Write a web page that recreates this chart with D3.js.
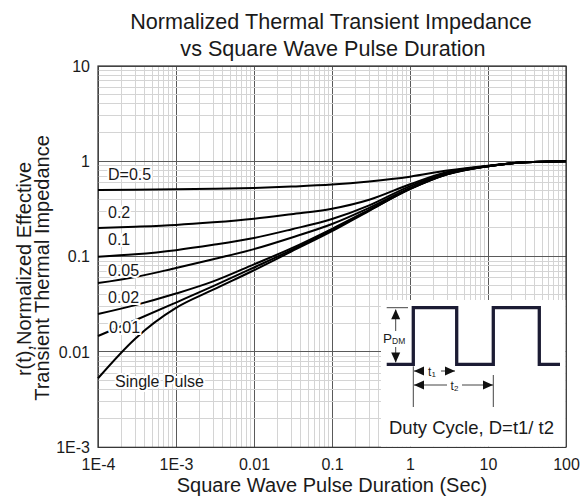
<!DOCTYPE html>
<html>
<head>
<meta charset="utf-8">
<script src="https://cdn.jsdelivr.net/npm/d3@7"></script>
<style>
  body { margin: 0; background: #fff; }
  text { font-family: "Liberation Sans", Arial, sans-serif; fill: #1a1a1a; }
</style>
</head>
<body>
<div class="chart"></div>
<script>
const durations = [1e-4, 3e-4, 1e-3, 3e-3, 0.01, 0.03, 0.1, 0.3, 1, 3, 10, 30, 100];
// r(t) for each duty cycle
const duty050 = [0.50, 0.503, 0.508, 0.515, 0.526, 0.543, 0.57, 0.615, 0.69, 0.80, 0.90, 0.975, 1.0];
const duty020 = [0.20, 0.206, 0.215, 0.229, 0.25, 0.279, 0.318, 0.395, 0.575, 0.775, 0.895, 0.975, 1.0];
const duty010 = [0.10, 0.106, 0.117, 0.133, 0.157, 0.193, 0.248, 0.345, 0.55, 0.755, 0.89, 0.975, 1.0];
const duty005 = [0.053, 0.061, 0.076, 0.094, 0.12, 0.158, 0.22, 0.325, 0.525, 0.74, 0.89, 0.975, 1.0];
const duty002 = [0.025, 0.031, 0.041, 0.055, 0.083, 0.122, 0.196, 0.31, 0.517, 0.735, 0.89, 0.975, 1.0];
const duty001 = [0.0147, 0.0215, 0.033, 0.049, 0.077, 0.117, 0.192, 0.305, 0.513, 0.732, 0.89, 0.975, 1.0];
const singlePulse = [0.0053, 0.0138, 0.029, 0.045, 0.072, 0.113, 0.185, 0.303, 0.51, 0.73, 0.89, 0.975, 1.0];
const curveLabels = ["D=0.5", "0.2", "0.1", "0.05", "0.02", "0.01", "Single Pulse"];

const xTickValues = [1e-4, 1e-3, 0.01, 0.1, 1, 10, 100];
const xTickLabels = ["1E-4", "1E-3", "0.01", "0.1", "1", "10", "100"];
const yTickValues = [1e-3, 0.01, 0.1, 1, 10];
const yTickLabels = ["1E-3", "0.01", "0.1", "1", "10"];

const width = 582, height = 497;
const plot = {left: 98, right: 566, top: 66, bottom: 447.3};

let svg = d3.select(".chart").append("svg")
    .attr("width", width)
    .attr("height", height);

let x = d3.scaleLog().domain([1e-4, 100]).range([plot.left, plot.right]);
let y = d3.scaleLog().domain([1e-3, 10]).range([plot.bottom, plot.top]);

// grid: minor first, major on top
let isMajor = v => Math.abs(Math.log10(v) - Math.round(Math.log10(v))) < 1e-6;
let grid = svg.append("g").attr("shape-rendering", "crispEdges");
grid.selectAll(".vx").data(x.ticks().sort((a, b) => isMajor(a) - isMajor(b))).join("line")
    .attr("x1", d => x(d)).attr("x2", d => x(d))
    .attr("y1", plot.top).attr("y2", plot.bottom)
    .attr("stroke", d => isMajor(d) ? "#5a5a5a" : "#d4d4d4")
    .attr("stroke-width", 1);
grid.selectAll(".hy").data(y.ticks().sort((a, b) => isMajor(a) - isMajor(b))).join("line")
    .attr("y1", d => y(d)).attr("y2", d => y(d))
    .attr("x1", plot.left).attr("x2", plot.right)
    .attr("stroke", d => isMajor(d) ? "#5a5a5a" : "#d4d4d4")
    .attr("stroke-width", 1);

// frame
svg.append("rect")
    .attr("x", plot.left).attr("y", plot.top)
    .attr("width", plot.right - plot.left).attr("height", plot.bottom - plot.top)
    .attr("fill", "none").attr("stroke", "#333").attr("stroke-width", 1.2);

// axes labels
let xAxis = d3.axisBottom(x)
    .tickValues(xTickValues)
    .tickFormat((d, i) => xTickLabels[i])
    .tickSize(0).tickPadding(11);
svg.append("g").attr("transform", `translate(0,${plot.bottom})`)
    .call(xAxis)
    .call(g => g.select(".domain").remove())
    .selectAll("text").attr("font-size", 16).attr("font-family", null).attr("fill", null);

let yAxis = d3.axisLeft(y)
    .tickValues(yTickValues)
    .tickFormat((d, i) => yTickLabels[i])
    .tickSize(0).tickPadding(8);
svg.append("g").attr("transform", `translate(${plot.left},0)`)
    .call(yAxis)
    .call(g => g.select(".domain").remove())
    .selectAll("text").attr("font-size", 16).attr("font-family", null).attr("fill", null);

// curves
let series = [duty050, duty020, duty010, duty005, duty002, duty001, singlePulse];
let line = d3.line()
    .x((d, i) => x(durations[i]))
    .y(d => y(d))
    .curve(d3.curveMonotoneX);
svg.append("g")
    .selectAll("path")
    .data(series)
    .join("path")
    .attr("d", line)
    .attr("fill", "none")
    .attr("stroke", "#000")
    .attr("stroke-width", 2);

// curve labels (white halo breaks the line under the text)
let labelPos = [[108, 180], [108, 217.7], [108, 245], [108, 276], [108, 303.3], [109, 333.3], [115, 387.3]];
svg.append("g")
    .selectAll("text")
    .data(curveLabels)
    .join("text")
    .attr("x", (d, i) => labelPos[i][0])
    .attr("y", (d, i) => labelPos[i][1])
    .attr("font-size", 16)
    .attr("stroke", "#fff")
    .attr("stroke-width", 4)
    .attr("paint-order", "stroke")
    .text(d => d);

// inset: duty cycle sketch
let inset = svg.append("g");
inset.append("rect")
    .attr("x", 381).attr("y", 300)
    .attr("width", plot.right - 381 - 0.6).attr("height", plot.bottom - 300 - 0.6)
    .attr("fill", "#fff");
let lo = 364.3, hi = 307.7;
let wave = [[386.7, lo], [413.3, lo], [413.3, hi], [456.7, hi], [456.7, lo], [493.3, lo],
            [493.3, hi], [539.3, hi], [539.3, lo], [560, lo]];
inset.append("path")
    .attr("d", d3.line()(wave))
    .attr("fill", "none")
    .attr("stroke", "#1c1c34")
    .attr("stroke-width", 3.3)
    .attr("stroke-linejoin", "miter");

let addLine = (x1, y1, x2, y2) => inset.append("line")
    .attr("x1", x1).attr("y1", y1).attr("x2", x2).attr("y2", y2)
    .attr("stroke", "#444").attr("stroke-width", 1);
let arrowHead = (tx, ty, dir) => {
    let L = 10, W = 4.5, p;
    if (dir === "up") p = [[tx, ty], [tx - W, ty + L], [tx + W, ty + L]];
    if (dir === "down") p = [[tx, ty], [tx - W, ty - L], [tx + W, ty - L]];
    if (dir === "left") p = [[tx, ty], [tx + L, ty - W], [tx + L, ty + W]];
    if (dir === "right") p = [[tx, ty], [tx - L, ty - W], [tx - L, ty + W]];
    inset.append("path").attr("d", d3.line()(p) + "Z").attr("fill", "#111");
};

// P_DM
addLine(386.7, hi, 408, hi);
addLine(395.7, hi + 2, 395.7, 331);
addLine(395.7, 347, 395.7, lo - 2);
arrowHead(395.7, hi + 1.5, "up");
arrowHead(395.7, lo - 1.8, "down");
let pdm = inset.append("text").attr("x", 383).attr("y", 343).attr("font-size", 13.5).attr("fill", "#333");
pdm.append("tspan").text("P");
pdm.append("tspan").attr("font-size", 8.5).attr("dy", 0.5).text("DM");

// t1, t2
addLine(413.3, lo + 2, 413.3, 407);
addLine(493.3, 375, 493.3, 407);
addLine(414, 371, 423, 371);
addLine(441, 371, 455, 371);
arrowHead(414, 371, "left");
arrowHead(455, 371, "right");
let t1 = inset.append("text").attr("x", 432).attr("y", 375.5).attr("font-size", 12)
    .attr("text-anchor", "middle").attr("fill", "#333");
t1.append("tspan").text("t");
t1.append("tspan").attr("font-size", 8).attr("dy", 1).text("1");
addLine(414, 385, 447, 385);
addLine(462, 385, 493, 385);
arrowHead(414, 385, "left");
arrowHead(493, 385, "right");
let t2 = inset.append("text").attr("x", 454.5).attr("y", 389.5).attr("font-size", 12)
    .attr("text-anchor", "middle").attr("fill", "#333");
t2.append("tspan").text("t");
t2.append("tspan").attr("font-size", 8).attr("dy", 1).text("2");

inset.append("text")
    .attr("x", 389).attr("y", 434)
    .attr("font-size", 18.5)
    .text("Duty Cycle, D=t1/ t2");

// titles
svg.append("text")
    .attr("x", 331).attr("y", 29)
    .attr("text-anchor", "middle").attr("font-size", 21.6)
    .text("Normalized Thermal Transient Impedance");
svg.append("text")
    .attr("x", 333).attr("y", 56)
    .attr("text-anchor", "middle").attr("font-size", 21.6)
    .text("vs Square Wave Pulse Duration");

svg.append("text")
    .attr("x", 332).attr("y", 492)
    .attr("text-anchor", "middle").attr("font-size", 20)
    .text("Square Wave Pulse Duration (Sec)");

svg.append("text")
    .attr("transform", "translate(31,269) rotate(-90)")
    .attr("text-anchor", "middle").attr("font-size", 20)
    .text("r(t),Normalized Effective");
svg.append("text")
    .attr("transform", "translate(49,268) rotate(-90)")
    .attr("text-anchor", "middle").attr("font-size", 20)
    .text("Transient Thermal Impedance");
</script>
</body>
</html>
